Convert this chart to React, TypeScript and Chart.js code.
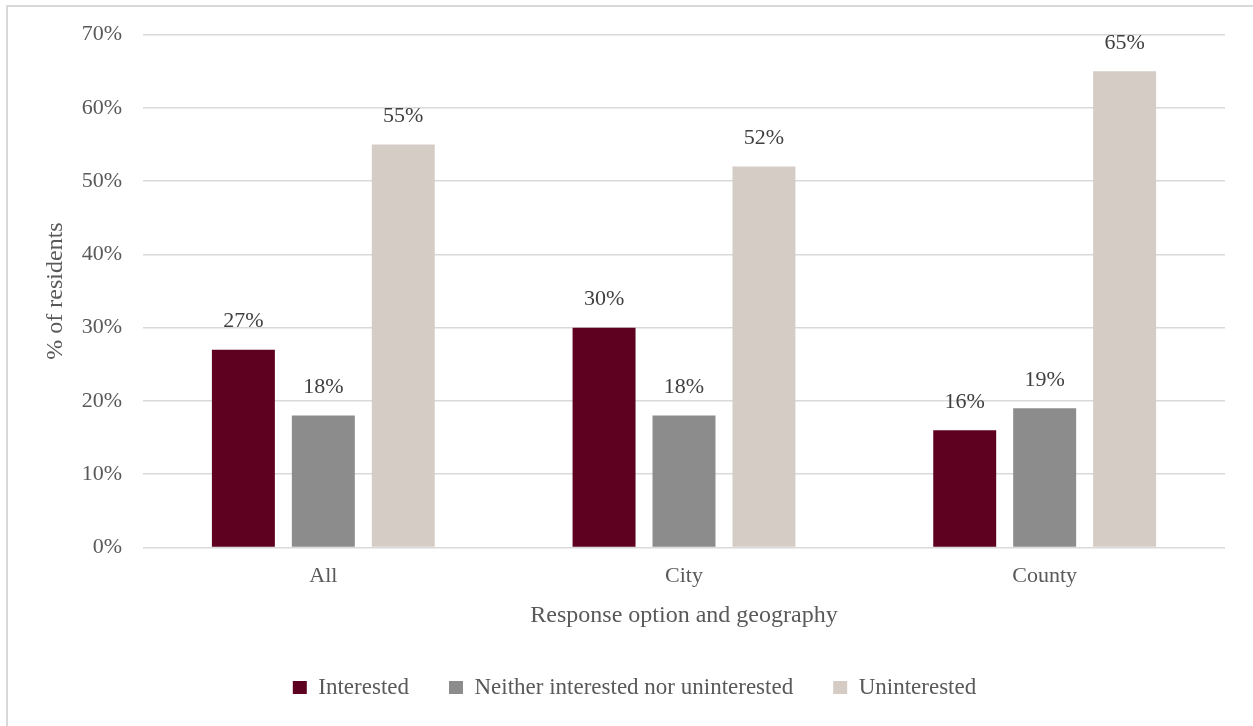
import React, { useEffect, useRef } from "react";
import { Chart, registerables } from "chart.js";

Chart.register(...registerables);

const categories = ["All", "City", "County"];
const interested = [27, 30, 16];
const neither = [18, 18, 19];
const uninterested = [55, 52, 65];
const seriesNames = ["Interested", "Neither interested nor uninterested", "Uninterested"];
const seriesColors = ["#5E0020", "#8C8C8D", "#D5CCC6"];

const FONT = "'Liberation Serif', 'Times New Roman', serif";
const TEXT = "#595959";
const GRID = "#D9D9D9";

// Writes each bar's value above its top edge.
const valueLabels = {
  id: "valueLabels",
  afterDatasetsDraw(chart: Chart) {
    const { ctx } = chart;
    ctx.save();
    ctx.font = `22px ${FONT}`;
    ctx.fillStyle = "#404040";
    ctx.textAlign = "center";
    ctx.textBaseline = "middle";
    chart.data.datasets.forEach((ds, i) => {
      const meta = chart.getDatasetMeta(i);
      meta.data.forEach((el: any, j: number) => {
        ctx.fillText(`${ds.data[j]}%`, el.x, el.y - 28);
      });
    });
    ctx.restore();
  },
};

export default function App() {
  const ref = useRef<HTMLCanvasElement>(null);

  useEffect(() => {
    if (!ref.current) return;
    const chart = new Chart(ref.current, {
      type: "bar",
      data: {
        labels: categories,
        datasets: [interested, neither, uninterested].map((d, i) => ({
          label: seriesNames[i],
          data: d,
          backgroundColor: seriesColors[i],
          borderWidth: 0,
          categoryPercentage: 0.665,
          barPercentage: 0.7875,
        })),
      },
      options: {
        responsive: false,
        animation: false,
        devicePixelRatio: 1,
        layout: { padding: { top: 34.5, right: 28, bottom: 17, left: 44 } },
        plugins: {
          tooltip: { enabled: false },
          legend: {
            position: "bottom",
            labels: {
              boxWidth: 14,
              boxHeight: 13,
              padding: 40,
              color: TEXT,
              font: { family: FONT, size: 23 },
            },
          },
        },
        scales: {
          x: {
            grid: { display: false },
            border: { display: false },
            ticks: { color: TEXT, font: { family: FONT, size: 22 }, padding: 7.5 },
            title: {
              display: true,
              text: "Response option and geography",
              color: TEXT,
              font: { family: FONT, size: 24 },
              padding: { top: 4, bottom: 6 },
            },
            afterFit(s: any) {
              s.height = 88.5;
            },
          },
          y: {
            min: 0,
            max: 70,
            ticks: {
              stepSize: 10,
              color: TEXT,
              font: { family: FONT, size: 22 },
              padding: 21,
              callback: (v: any) => `${v}%`,
            },
            grid: { color: GRID, lineWidth: 1.5, drawTicks: false },
            border: { display: false },
            title: {
              display: true,
              text: "% of residents",
              color: TEXT,
              font: { family: FONT, size: 24, lineHeight: 0.95 },
              padding: { top: 0, bottom: 0 },
            },
            afterFit(s: any) {
              s.width = 99;
            },
          },
        },
      },
      plugins: [valueLabels],
    });
    return () => chart.destroy();
  }, []);

  return (
    <div
      style={{
        position: "fixed",
        left: 0,
        top: 0,
        width: 1253,
        height: 726,
        overflow: "hidden",
        background: "#fff",
      }}
    >
      <div
        style={{
          position: "absolute",
          left: 6,
          top: 5,
          width: 1300,
          height: 800,
          border: `2px solid ${GRID}`,
        }}
      />
      <canvas
        ref={ref}
        width={1253}
        height={726}
        style={{ position: "absolute", left: 0, top: 0 }}
      />
    </div>
  );
}
